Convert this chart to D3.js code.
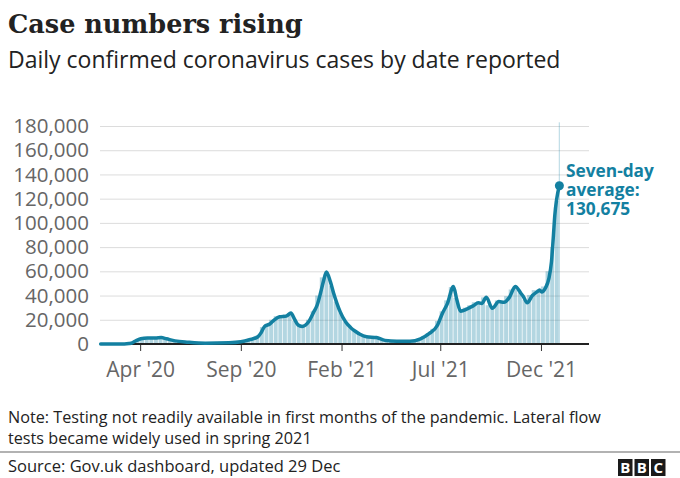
<!DOCTYPE html>
<html>
<head>
<meta charset="utf-8">
<script src="https://cdn.jsdelivr.net/npm/d3@7"></script>
<style>
body { margin: 0; background: #ffffff; }
</style>
</head>
<body>
<div id="chart"></div>
<script>
//////////////////////////////////////////////////////////////////////////////
// Data

// seven-day average, key points
var avgDates = [
    "2020-02-01", "2020-02-25", "2020-03-08", "2020-03-15", "2020-03-20", "2020-03-26",
    "2020-04-02", "2020-04-12", "2020-04-24", "2020-05-03", "2020-05-11", "2020-05-24",
    "2020-06-13", "2020-07-09", "2020-08-14", "2020-09-01", "2020-09-14", "2020-09-27",
    "2020-10-02", "2020-10-07", "2020-10-15", "2020-10-22", "2020-10-30", "2020-11-09",
    "2020-11-16", "2020-11-22", "2020-11-27", "2020-12-03", "2020-12-13", "2020-12-21",
    "2020-12-26", "2020-12-31", "2021-01-05", "2021-01-09", "2021-01-15", "2021-01-20",
    "2021-01-25", "2021-01-30", "2021-02-07", "2021-02-15", "2021-02-22", "2021-03-01",
    "2021-03-11", "2021-03-26", "2021-04-08", "2021-04-26", "2021-05-16", "2021-06-01",
    "2021-06-14", "2021-06-27", "2021-07-04", "2021-07-12", "2021-07-21", "2021-07-26",
    "2021-08-01", "2021-08-11", "2021-08-20", "2021-08-28", "2021-09-02", "2021-09-09",
    "2021-09-18", "2021-09-28", "2021-10-06", "2021-10-14", "2021-10-23", "2021-11-01",
    "2021-11-04", "2021-11-10", "2021-11-18", "2021-11-25", "2021-11-29", "2021-12-02",
    "2021-12-08", "2021-12-13", "2021-12-17", "2021-12-20", "2021-12-22", "2021-12-25",
    "2021-12-29"
];
var avgValues = [
    0, 10, 60, 400, 1000, 2800,
    4300, 5000, 5000, 5300, 4300, 2600,
    1500, 700, 1000, 1800, 3500, 6000,
    9500, 14500, 16500, 20000, 22500, 23000,
    25500, 20000, 15700, 14500, 18400, 26700,
    32200, 41900, 52900, 59500, 51500, 41900,
    33600, 26500, 18400, 13500, 10500, 8000,
    6000, 5300, 3000, 2300, 2300, 4300,
    8500, 15700, 25000, 33600, 47500, 36900,
    27000, 29000, 31500, 34000, 33500, 38500,
    29500, 35000, 34500, 38500, 47500, 41500,
    39500, 34000, 40000, 43000, 44500, 43000,
    46500, 54000, 68000, 90000, 106000, 120000,
    130675
];

// daily cases, one bar per week (weeks ending on these Wednesdays)
var firstWeekEnd = "2020-02-05";
var bars2020 = [
    0, 0, 5, 10,
    30, 100, 500, 1900, 3800,
    4900, 5000, 5000, 5000,
    5400, 4500, 3200, 2500,
    2000, 1700, 1400, 1200,
    900, 800, 700, 800, 900,
    1000, 1100, 1100, 1300,
    1800, 2700, 3800, 5000, 7000,
    14000, 16500, 20000, 23000,
    23500, 24500, 25500, 19000,
    15000, 16000, 20000, 27000, 40000
];
var bars2021 = [
    55000, 60000, 48000, 35000,
    26000, 18000, 14000, 11000,
    9000, 6800, 6000, 5800, 4800,
    3500, 2900, 2600, 2500,
    2500, 2500, 2600, 3200,
    4300, 6500, 9000, 12500, 19000,
    27000, 36000, 47000, 38000,
    28500, 30000, 32000, 34500,
    35000, 38500, 32000, 31500, 36000,
    35500, 39500, 45000, 46500,
    42000, 36500, 40500, 44500,
    45000, 47500, 60000, 80000, 118000
];
var latestDate = "2021-12-29";
var latestDaily = 183037;

var yTicks = [0, 20000, 40000, 60000, 80000, 100000, 120000, 140000, 160000, 180000];
var xTickDates = ["2020-04-01", "2020-09-01", "2021-02-01", "2021-07-01", "2021-12-01"];
var xTickLabels = ["Apr '20", "Sep '20", "Feb '21", "Jul '21", "Dec '21"];

var annotationLines = ["Seven-day", "average:", "130,675"];
var noteLines = [
    "Note: Testing not readily available in first months of the pandemic. Lateral flow",
    "tests became widely used in spring 2021"
];

//////////////////////////////////////////////////////////////////////////////
// Global variables, preliminaries

var svgWidth = 680;
var svgHeight = 478;
var teal = "#1380A1";
var sans = "'Open Sans', sans-serif";
var parse = d3.timeParse("%Y-%m-%d");

var xScale = d3.scaleTime()
    .domain([parse("2020-01-31"), parse("2022-02-12")])
    .range([100, 589]);
var yScale = d3.scaleLinear().domain([0, 180000]).range([344, 126]);

var avgData = avgDates.map(function(d, i) {
    return { date: parse(d), value: avgValues[i] };
});
var barData = bars2020.concat(bars2021).map(function(v, i) {
    var end = d3.timeDay.offset(parse(firstWeekEnd), 7 * i);
    return { start: d3.timeDay.offset(end, -7), end: end, value: v };
});

var svg = d3.select("#chart")
    .append("svg")
    .attr("width", svgWidth)
    .attr("height", svgHeight)
    .attr("font-family", sans);

//////////////////////////////////////////////////////////////////////////////
// Titles

svg.append("text")
    .attr("x", 8)
    .attr("y", 33)
    .attr("font-family", "'DejaVu Serif', serif")
    .attr("font-weight", "bold")
    .attr("font-size", 25.5)
    .attr("fill", "#222")
    .text("Case numbers rising");

svg.append("text")
    .attr("x", 8)
    .attr("y", 68)
    .attr("font-size", 23)
    .attr("fill", "#222")
    .text("Daily confirmed coronavirus cases by date reported");

//////////////////////////////////////////////////////////////////////////////
// Axes

var yAxis = svg.append("g")
    .attr("transform", "translate(100,0)")
    .call(d3.axisLeft(yScale)
        .tickValues(yTicks)
        .tickSize(-489)
        .tickPadding(11)
        .tickFormat(d3.format(",")));
yAxis.select(".domain").remove();
yAxis.selectAll("line").attr("stroke", "#dcdcdc");
yAxis.selectAll("text")
    .attr("font-size", 20.5)
    .attr("fill", "#666")
    .attr("font-family", sans);

var xAxis = svg.append("g")
    .attr("transform", "translate(0,344)")
    .call(d3.axisBottom(xScale)
        .tickValues(xTickDates.map(parse))
        .tickSize(7)
        .tickPadding(11)
        .tickFormat(function(d, i) { return xTickLabels[i]; }));
xAxis.select(".domain").remove();
xAxis.selectAll("line").attr("stroke", "#333");
xAxis.selectAll("text")
    .attr("font-size", 21)
    .attr("fill", "#666")
    .attr("font-family", sans);

//////////////////////////////////////////////////////////////////////////////
// Bars, baseline, line

svg.append("g")
    .selectAll("rect")
    .data(barData)
    .enter()
    .append("rect")
    .attr("x", function(d) { return xScale(d.start); })
    .attr("y", function(d) { return yScale(d.value); })
    .attr("width", function(d) { return xScale(d.end) - xScale(d.start) - 0.7; })
    .attr("height", function(d) { return yScale(0) - yScale(d.value); })
    .attr("fill", teal)
    .attr("fill-opacity", 0.32);

svg.append("rect")
    .attr("x", xScale(parse(latestDate)) - 0.6)
    .attr("y", yScale(latestDaily))
    .attr("width", 1)
    .attr("height", yScale(0) - yScale(latestDaily))
    .attr("fill", teal)
    .attr("fill-opacity", 0.32);

svg.append("line")
    .attr("x1", 100)
    .attr("x2", 589)
    .attr("y1", yScale(0))
    .attr("y2", yScale(0))
    .attr("stroke", "#222")
    .attr("stroke-width", 2);

var line = d3.line()
    .x(function(d) { return xScale(d.date); })
    .y(function(d) { return yScale(d.value); })
    .curve(d3.curveMonotoneX);

svg.append("path")
    .datum(avgData)
    .attr("d", line)
    .attr("fill", "none")
    .attr("stroke", teal)
    .attr("stroke-width", 3.5)
    .attr("stroke-linejoin", "round")
    .attr("stroke-linecap", "round");

var last = avgData[avgData.length - 1];
svg.append("circle")
    .attr("cx", xScale(last.date))
    .attr("cy", yScale(last.value))
    .attr("r", 4.5)
    .attr("fill", teal);

svg.append("g")
    .selectAll("text")
    .data(annotationLines)
    .enter()
    .append("text")
    .attr("x", 566)
    .attr("y", function(d, i) { return 177 + i * 19; })
    .attr("font-size", 17.3)
    .attr("font-weight", "bold")
    .attr("fill", teal)
    .text(function(d) { return d; });

//////////////////////////////////////////////////////////////////////////////
// Footer

svg.append("g")
    .selectAll("text")
    .data(noteLines)
    .enter()
    .append("text")
    .attr("x", 8)
    .attr("y", function(d, i) { return 423 + i * 21; })
    .attr("font-size", 16.2)
    .attr("fill", "#222")
    .text(function(d) { return d; });

svg.append("line")
    .attr("x1", 0)
    .attr("x2", 680)
    .attr("y1", 452)
    .attr("y2", 452)
    .attr("stroke", "#999")
    .attr("stroke-width", 1.5);

svg.append("text")
    .attr("x", 8)
    .attr("y", 472)
    .attr("font-size", 16.5)
    .attr("fill", "#222")
    .text("Source: Gov.uk dashboard, updated 29 Dec");

var logo = svg.append("g")
    .selectAll("g")
    .data(["B", "B", "C"])
    .enter()
    .append("g")
    .attr("transform", function(d, i) {
        return "translate(" + (618 + i * 16.5) + ",459)";
    });
logo.append("rect")
    .attr("width", 14.5)
    .attr("height", 17)
    .attr("fill", "#1a1a1a");
logo.append("text")
    .attr("x", 7.25)
    .attr("y", 14)
    .attr("text-anchor", "middle")
    .attr("font-size", 15)
    .attr("font-weight", "bold")
    .attr("fill", "#fff")
    .text(function(d) { return d; });
</script>
</body>
</html>
